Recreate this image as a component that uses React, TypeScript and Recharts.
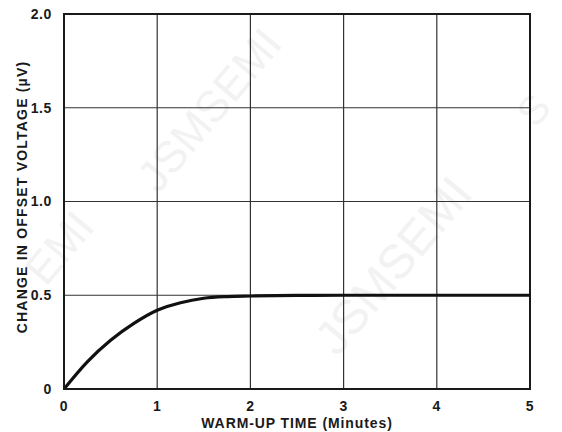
import React from "react";
import {
  CartesianGrid,
  Label,
  Line,
  LineChart,
  ReferenceArea,
  XAxis,
  YAxis
} from "recharts";

// warm-up time in minutes
const minutes = [0, 0.25, 0.5, 0.75, 1, 1.25, 1.5, 1.75, 2, 2.5, 3, 3.5, 4, 4.5, 5];
// change in offset voltage (uV)
const offsetChange = [0, 0.145, 0.26, 0.35, 0.42, 0.46, 0.484, 0.493, 0.496, 0.499, 0.5, 0.5, 0.5, 0.5, 0.5];

const xTicks = [0, 1, 2, 3, 4, 5];
const yTicks = [0, 0.5, 1, 1.5, 2];

const watermarks = [
  { text: "JSMSEMI", x: 212, y: 112, size: 44 },
  { text: "JSMSEMI", x: 396, y: 268, size: 48 },
  { text: "EMI", x: 62, y: 250, size: 44 },
  { text: "S", x: 536, y: 112, size: 40 }
];

const data = minutes.map((m, i) => ({ t: m, v: offsetChange[i] }));

const FONT = "'Liberation Sans', Arial, sans-serif";
const INK = "#1a1a1a";

function formatY(v: number) {
  return v === 0 ? "0" : v.toFixed(1);
}

export default function App() {
  return (
    <div style={{ position: "absolute", left: 0, top: 0, width: 562, height: 432, background: "#fff" }}>
      <svg width={562} height={432} style={{ position: "absolute", left: 0, top: 0 }}>
        {watermarks.map((w, i) => (
          <text
            key={i}
            x={w.x}
            y={w.y}
            transform={`rotate(-50 ${w.x} ${w.y})`}
            textAnchor="middle"
            dominantBaseline="middle"
            fontFamily={FONT}
            fontSize={w.size}
            fill="#f2f2f2"
          >
            {w.text}
          </text>
        ))}
      </svg>
      <div style={{ position: "absolute", left: 0, top: 0 }}>
        <LineChart
          width={562}
          height={432}
          data={data}
          margin={{ top: 14, right: 32, bottom: 0, left: 0 }}
        >
          <CartesianGrid stroke="#333" strokeWidth={1.2} />
          <XAxis
            dataKey="t"
            type="number"
            domain={[0, 5]}
            ticks={xTicks}
            height={43}
            tickLine={false}
            axisLine={{ stroke: INK, strokeWidth: 2 }}
            tickMargin={6}
            tick={{ fill: INK, fontSize: 14, fontWeight: "bold", fontFamily: FONT, letterSpacing: 0.6 }}
          >
            <Label
              value="WARM-UP TIME (Minutes)"
              position="insideBottom"
              offset={4}
              style={{ fill: INK, fontSize: 14, fontWeight: "bold", fontFamily: FONT, letterSpacing: 0.9 }}
            />
          </XAxis>
          <YAxis
            type="number"
            domain={[0, 2]}
            ticks={yTicks}
            width={64}
            tickLine={false}
            axisLine={{ stroke: INK, strokeWidth: 2 }}
            tickMargin={6}
            tickFormatter={formatY}
            tick={{ fill: INK, fontSize: 14, fontWeight: "bold", fontFamily: FONT, letterSpacing: 0.6 }}
          />
          <ReferenceArea x1={0} x2={5} y1={0} y2={2} fill="none" stroke={INK} strokeWidth={2} ifOverflow="visible" />
          <Line
            type="monotone"
            dataKey="v"
            stroke="#111"
            strokeWidth={3.2}
            dot={false}
            isAnimationActive={false}
          />
        </LineChart>
      </div>
      <svg width={562} height={432} style={{ position: "absolute", left: 0, top: 0, pointerEvents: "none" }}>
        <text
          x={23}
          y={197}
          transform="rotate(-90 23 197)"
          textAnchor="middle"
          dominantBaseline="middle"
          fontFamily={FONT}
          fontWeight="bold"
          fontSize={14}
          letterSpacing={1.2}
          fill={INK}
        >
          CHANGE IN OFFSET VOLTAGE (µV)
        </text>
      </svg>
    </div>
  );
}
